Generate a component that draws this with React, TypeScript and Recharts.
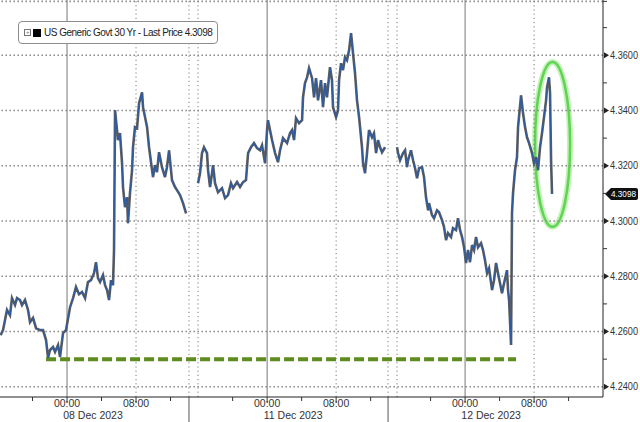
import React from 'react';
import {
  ComposedChart,
  Line,
  XAxis,
  YAxis,
  ReferenceLine,
  ReferenceArea,
  ReferenceDot,
} from 'recharts';

// hours on the (weekend-compressed) axis, 0 = 08 Dec 00:00
const thuFriHours = [
  -7.7, -7.42, -6.96, -6.61, -6.38, -6.03, -5.8, -5.45, -5.22, -4.87, -4.52, -4.29, -3.94, -3.59, -3.13,
  -2.78, -2.43, -2.2, -1.97, -1.62, -1.39, -1.04, -0.81, -0.46, -0.12, 0.35, 0.7, 1.04, 1.39, 1.74, 2.09,
  2.43, 2.78, 3.13, 3.36, 3.59, 3.83, 4.17, 4.41, 4.64, 4.87, 5.1, 5.33, 5.45, 5.57, 5.68, 5.91, 6.14,
  6.38, 6.49, 6.72, 6.96, 7.07, 7.3, 7.54, 7.65, 7.88, 8.12, 8.35, 8.7, 8.81, 9.28, 9.51, 9.86, 9.97,
  10.2, 10.43, 10.67, 11.01, 11.36, 11.59, 11.83, 12.17, 12.52, 12.75, 13.1, 13.45, 13.8,
];
const thuFriYields = [
  4.2587, 4.2605, 4.2678, 4.2659, 4.2721, 4.2696, 4.2721, 4.2714, 4.2696, 4.2714, 4.2678, 4.2634, 4.2649,
  4.2612, 4.2605, 4.2605, 4.2569, 4.2505, 4.2533, 4.2544, 4.2526, 4.2551, 4.2508, 4.2594, 4.2605, 4.2688,
  4.2721, 4.2761, 4.2735, 4.2743, 4.2721, 4.2779, 4.2786, 4.2811, 4.2851, 4.2793, 4.2779, 4.2804, 4.2768,
  4.275, 4.2714, 4.2786, 4.2768, 4.2895, 4.3401, 4.3365, 4.3293, 4.3318, 4.3209, 4.3123, 4.305, 4.3086,
  4.2992, 4.3101, 4.3184, 4.3267, 4.334, 4.3336, 4.3426, 4.3466, 4.3412, 4.334, 4.3267, 4.3184, 4.3159,
  4.3202, 4.3177, 4.3249, 4.3195, 4.3159, 4.3195, 4.3256, 4.3148, 4.3123, 4.3112, 4.3094, 4.3065, 4.3028,
];

const monHours = [
  15.19, 15.42, 15.65, 15.88, 16.23, 16.35, 16.58, 16.81, 16.93, 17.16, 17.51, 17.97, 18.32, 18.67, 19.01,
  19.25, 19.71, 20.06, 20.41, 20.75, 20.99, 21.33, 21.68, 22.03, 22.38, 22.61, 22.96, 23.19, 23.3, 23.77,
  24.12, 24.46, 24.7, 25.04, 25.51, 25.86, 26.09, 26.32, 26.55, 26.9, 27.25, 27.36, 27.59, 27.83, 28.06,
  28.41, 28.64, 28.87, 29.1, 29.45, 29.68, 29.91, 30.14, 30.49, 30.72, 30.84, 31.19, 31.42, 31.54, 31.77,
  32.0, 32.23, 32.46, 32.7, 32.93, 33.16, 33.39, 33.62, 33.86, 34.2, 34.32, 34.55, 34.78, 35.01, 35.36,
  35.59, 35.83, 36.06, 36.29, 36.52, 36.87,
];
const monYields = [
  4.3137, 4.3173, 4.3246, 4.3267, 4.3246, 4.3184, 4.3123, 4.3173, 4.3202, 4.3137, 4.3104, 4.3119, 4.3083,
  4.3094, 4.3137, 4.3119, 4.3141, 4.3123, 4.3141, 4.3148, 4.3246, 4.3267, 4.3282, 4.3264, 4.3256, 4.3274,
  4.3209, 4.3329, 4.3365, 4.3293, 4.3246, 4.3213, 4.3256, 4.33, 4.3282, 4.3318, 4.3329, 4.3293, 4.3372,
  4.3354, 4.3365, 4.3448, 4.3499, 4.352, 4.3553, 4.3517, 4.3448, 4.3517, 4.3437, 4.351, 4.3412, 4.3499,
  4.3448, 4.3557, 4.351, 4.3412, 4.3376, 4.3401, 4.351, 4.3571, 4.3546, 4.3593, 4.3582, 4.3618, 4.368,
  4.3607, 4.3535, 4.3437, 4.3376, 4.3267, 4.3209, 4.3173, 4.3246, 4.3329, 4.3303, 4.3318, 4.3246, 4.3293,
  4.3267, 4.3249, 4.3267,
];

const tueHours = [
  38.26, 38.38, 38.61, 38.96, 39.19, 39.42, 39.54, 39.88, 40.12, 40.35, 40.58, 40.81, 41.16, 41.39, 41.62,
  41.86, 41.97, 42.32, 42.55, 42.9, 43.13, 43.48, 43.71, 43.94, 44.17, 44.52, 44.75, 45.1, 45.33, 45.57,
  45.8, 46.03, 46.26, 46.49, 46.72, 46.96, 47.19, 47.42, 47.65, 48.0, 48.23, 48.46, 48.7, 48.93, 49.28,
  49.51, 49.74, 49.97, 50.2, 50.43, 50.67, 51.01, 51.13, 51.25, 51.48, 51.59, 51.71, 51.94, 52.17, 52.29,
  52.64, 52.87, 53.1, 53.33, 53.57, 53.91, 54.14, 54.38, 54.61, 54.84, 55.07, 55.3, 55.54, 55.65, 55.88,
  56.0, 56.12, 56.23,
];
const tueYields = [
  4.3267, 4.3246, 4.322, 4.3246, 4.3256, 4.3195, 4.322, 4.3256, 4.322, 4.3191, 4.3155, 4.3191, 4.3195,
  4.3159, 4.3086, 4.3039, 4.3065, 4.3021, 4.301, 4.3039, 4.3032, 4.3003, 4.2978, 4.2931, 4.2956, 4.2942,
  4.2974, 4.2967, 4.301, 4.2967, 4.2942, 4.2905, 4.2848, 4.2895, 4.2851, 4.2913, 4.2895, 4.2942, 4.2905,
  4.292, 4.2895, 4.2858, 4.2811, 4.2829, 4.275, 4.2786, 4.2848, 4.2811, 4.2775, 4.2739, 4.2775, 4.2822,
  4.275, 4.2714, 4.2551, 4.3028, 4.3101, 4.3184, 4.3231, 4.334, 4.3455, 4.339, 4.334, 4.3303, 4.3282,
  4.3246, 4.3209, 4.3231, 4.3184, 4.3267, 4.3318, 4.3376, 4.3437, 4.3484, 4.352, 4.3463, 4.322, 4.3098,
];

const xDomain = [-7.77, 62.14];
const yDomain = [4.2363, 4.38];
const dayStarts = [0, 23.2, 46.15];
const dayLabels = ['08 Dec 2023', '11 Dec 2023', '12 Dec 2023'];
const sessionBreaks = [14.14, 37.22];
const xTicks = [-4, 0, 4, 8, 12, 14.14, 19.2, 23.2, 27.2, 31.2, 35.2, 37.22, 42.15, 46.15, 50.15, 54.15, 58.15];
const priceLabels = [4.24, 4.26, 4.28, 4.3, 4.32, 4.34, 4.36];
const gridPrices = [4.24, 4.26, 4.28, 4.3, 4.32, 4.34, 4.36, 4.3795];
const yTicks = [4.24, 4.25, 4.26, 4.27, 4.28, 4.29, 4.3, 4.31, 4.32, 4.33, 4.34, 4.35, 4.36, 4.37, 4.3795];
const gridHours = [8, 14.14, 15.19, 31.2, 37.22, 38.26, 54.15];
const lastPrice = 4.3098;
const supportLevel = 4.25;
const supportFrom = -2.43;
const supportTo = 52.06;
const circled = { x1: 54.26, x2: 58.32, y1: 4.2979, y2: 4.3576 };

const sessions = [
  [thuFriHours, thuFriYields],
  [monHours, monYields],
  [tueHours, tueYields],
];
const data: { t: number; y: number | null }[] = [];
sessions.forEach(([hours, yields], i) => {
  if (i > 0) data.push({ t: sessionBreaks[i - 1], y: null });
  hours.forEach((t, j) => data.push({ t, y: yields[j] }));
});

const near = (a: number, b: number) => Math.abs(a - b) < 0.01;

function TimeTick({ x, y, payload }: any) {
  const v = payload.value as number;
  if (sessionBreaks.some((b) => near(b, v))) {
    return <line x1={x} x2={x} y1={y} y2={y + 26} stroke="#555" />;
  }
  const day = dayStarts.findIndex((d) => near(d, v));
  const morning = dayStarts.findIndex((d) => near(d + 8, v));
  const long = day >= 0 || morning >= 0;
  return (
    <g>
      <line x1={x} x2={x} y1={y} y2={y + (long ? 6 : 4)} stroke="#333" />
      {day >= 0 && (
        <>
          <text x={x} y={y + 10} textAnchor="middle" fontSize={10.5} fill="#333">00:00</text>
          <text x={x + 26} y={y + 22} textAnchor="middle" fontSize={10.5} fill="#333">{dayLabels[day]}</text>
        </>
      )}
      {morning >= 0 && (
        <text x={x} y={y + 10} textAnchor="middle" fontSize={10.5} fill="#333">08:00</text>
      )}
    </g>
  );
}

function PriceTick({ x, y, payload }: any) {
  const v = payload.value as number;
  if (!priceLabels.includes(v)) {
    return <line x1={x} x2={x + 4} y1={y} y2={y} stroke="#333" />;
  }
  return (
    <g>
      <path d={`M${x + 1},${y - 3}L${x + 6},${y}L${x + 1},${y + 3}Z`} fill="#222" />
      <text x={x + 7} y={y + 3.5} fontSize={10} fill="#333" textLength={28} lengthAdjust="spacingAndGlyphs">
        {v.toFixed(4)}
      </text>
    </g>
  );
}

function LastPriceFlag({ cx, cy }: any) {
  return (
    <g>
      <path
        d={`M${cx + 2},${cy} L${cx + 8},${cy - 6} L${cx + 33},${cy - 6} Q${cx + 35},${cy - 6} ${cx + 35},${cy - 4} L${cx + 35},${cy + 4} Q${cx + 35},${cy + 6} ${cx + 33},${cy + 6} L${cx + 8},${cy + 6} Z`}
        fill="#111"
      />
      <text x={cx + 8} y={cy + 3.5} fontSize={9.5} fill="#fff" textLength={25} lengthAdjust="spacingAndGlyphs">
        {lastPrice.toFixed(4)}
      </text>
    </g>
  );
}

function Ellipse({ x, y, width, height }: any) {
  const cx = x + width / 2;
  const cy = y + height / 2;
  return (
    <g>
      <ellipse cx={cx} cy={cy} rx={width / 2} ry={height / 2} fill="none" stroke="#c2f2b6" strokeWidth={6} />
      <ellipse cx={cx} cy={cy} rx={width / 2} ry={height / 2} fill="none" stroke="#5fd452" strokeWidth={2.5} />
    </g>
  );
}

export default function App() {
  return (
    <div
      style={{
        position: 'fixed',
        left: 0,
        top: 0,
        width: 640,
        height: 422,
        background: '#fff',
        fontFamily: '"Liberation Sans", Arial, sans-serif',
        overflow: 'hidden',
      }}
    >
      <ComposedChart width={640} height={422} data={data} margin={{ top: 0, right: 0, bottom: 0, left: 0 }}>
        {gridPrices.map((p) => (
          <ReferenceLine key={'p' + p} y={p} stroke="#909090" strokeWidth={1.6} strokeDasharray="1.6 2.4" />
        ))}
        {gridHours.map((h) => (
          <ReferenceLine key={'h' + h} x={h} stroke="#7a7a7a" strokeDasharray="1.2 3" />
        ))}
        {dayStarts.map((d) => (
          <ReferenceLine key={'d' + d} x={d} stroke="#777" strokeWidth={1} />
        ))}
        <XAxis
          dataKey="t"
          type="number"
          domain={xDomain}
          ticks={xTicks}
          interval={0}
          allowDataOverflow
          height={25}
          tickSize={0}
          tickMargin={0}
          tick={<TimeTick />}
          axisLine={{ stroke: '#222' }}
          tickLine={false}
        />
        <YAxis
          orientation="right"
          type="number"
          domain={yDomain}
          ticks={yTicks}
          interval={0}
          allowDataOverflow
          width={37}
          tickSize={0}
          tickMargin={0}
          tick={<PriceTick />}
          axisLine={{ stroke: '#222' }}
          tickLine={false}
        />
        <ReferenceLine
          segment={[
            { x: supportFrom, y: supportLevel },
            { x: supportTo, y: supportLevel },
          ]}
          stroke="#5e8c1f"
          strokeWidth={4}
          strokeDasharray="10 4"
        />
        <Line
          dataKey="y"
          type="linear"
          stroke="#5f5f5f"
          strokeWidth={2.6}
          dot={false}
          activeDot={false}
          connectNulls={false}
          isAnimationActive={false}
        />
        <Line
          dataKey="y"
          type="linear"
          stroke="#2b5ba3"
          strokeWidth={1.1}
          dot={false}
          activeDot={false}
          connectNulls={false}
          isAnimationActive={false}
        />
        <ReferenceArea
          x1={circled.x1}
          x2={circled.x2}
          y1={circled.y1}
          y2={circled.y2}
          ifOverflow="visible"
          shape={<Ellipse />}
        />
        <ReferenceDot x={xDomain[1]} y={lastPrice} ifOverflow="visible" shape={<LastPriceFlag />} />
      </ComposedChart>
      <div
        style={{
          position: 'absolute',
          left: 18,
          top: 21,
          height: 21,
          padding: '0 5px 0 5px',
          border: '1px solid #8c8c8c',
          borderRadius: 4,
          background: '#fff',
          display: 'flex',
          alignItems: 'center',
          fontSize: 10,
          letterSpacing: '-0.5px',
          color: '#222',
          whiteSpace: 'nowrap',
        }}
      >
        <span
          style={{
            width: 5,
            height: 5,
            border: '1px solid #777',
            marginRight: 2,
            fontSize: 6,
            lineHeight: '5px',
            textAlign: 'center',
            color: '#777',
          }}
        >
          +
        </span>
        <span style={{ width: 8, height: 8, background: '#000', marginRight: 3 }} />
        <span>US Generic Govt 30 Yr - Last Price 4.3098</span>
      </div>
    </div>
  );
}
